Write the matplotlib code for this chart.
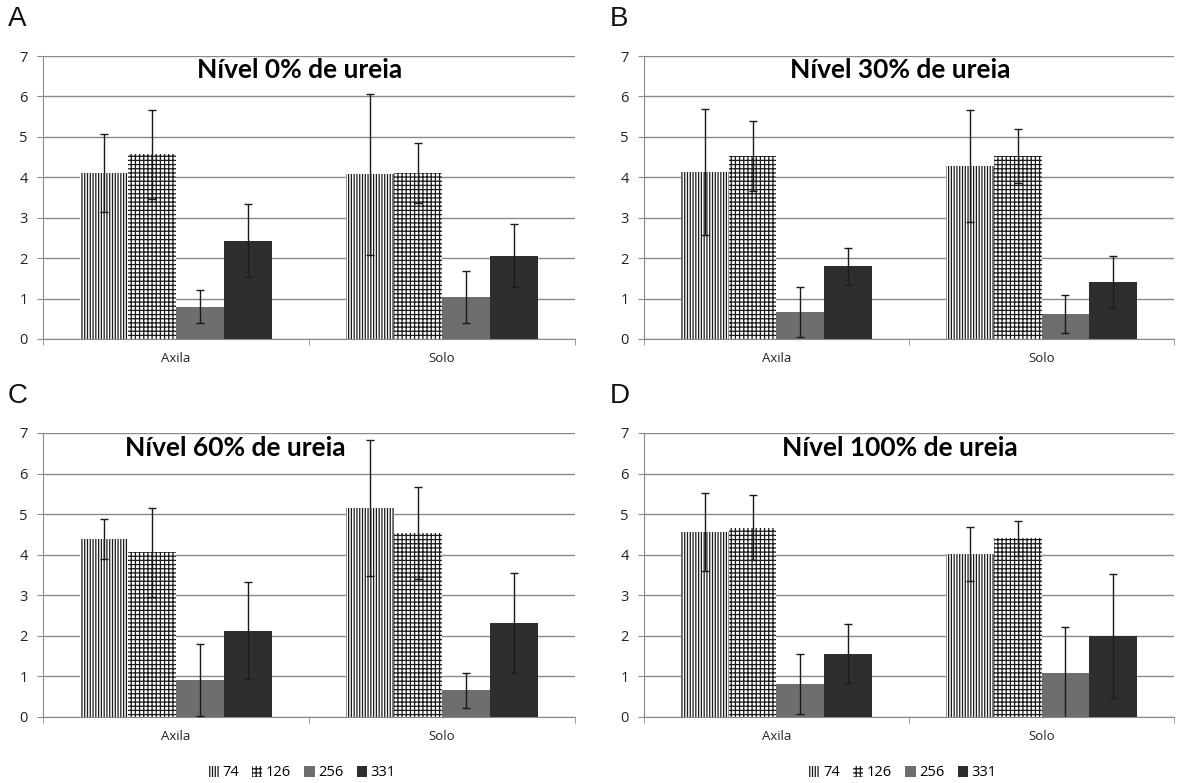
import matplotlib
matplotlib.use("Agg")
import matplotlib.pyplot as plt
from matplotlib.patches import Patch
import numpy as np

categories = ["Axila", "Solo"]
series = ["74", "126", "256", "331"]
panel_letters = ["A", "B", "C", "D"]
titles = ["Nível 0% de ureia", "Nível 30% de ureia", "Nível 60% de ureia", "Nível 100% de ureia"]

# means per panel: rows = series (74,126,256,331), cols = categories (Axila, Solo)
means_A = [[4.11, 4.08], [4.57, 4.11], [0.80, 1.04], [2.43, 2.06]]
errs_A = [[0.97, 1.99], [1.10, 0.75], [0.40, 0.65], [0.90, 0.78]]
means_B = [[4.14, 4.28], [4.52, 4.52], [0.67, 0.63], [1.80, 1.41]]
errs_B = [[1.56, 1.38], [0.86, 0.67], [0.61, 0.47], [0.46, 0.65]]
means_C = [[4.39, 5.15], [4.06, 4.54], [0.91, 0.66], [2.13, 2.31]]
errs_C = [[0.50, 1.68], [1.09, 1.13], [0.89, 0.43], [1.20, 1.23]]
means_D = [[4.57, 4.02], [4.66, 4.40], [0.82, 1.08], [1.56, 2.00]]
errs_D = [[0.96, 0.66], [0.80, 0.43], [0.74, 1.13], [0.72, 1.52]]

all_means = [means_A, means_B, means_C, means_D]
all_errs = [errs_A, errs_B, errs_C, errs_D]

W, H = 1180, 783
plt.rcParams['hatch.linewidth'] = 0.9
fig = plt.figure(figsize=(W / 100, H / 100), dpi=100)

# axes boxes in pixels: left, right, top, bottom
boxes = [(43, 575, 56, 339), (644, 1174, 56, 339),
         (43, 575, 433, 717), (644, 1174, 433, 717)]
title_pos = [(300, 70), (900, 70), (235, 448), (900, 448)]
letter_pos = [(8, 19), (610, 19), (8, 396), (610, 396)]

face = ["white", "white", "#6e6e6e", "#2e2e2e"]
hatches = ["||||||", "++++", None, None]
edges = ["#1a1a1a", "#1a1a1a", "#6e6e6e", "#2e2e2e"]
bw = 0.18
offsets = [-0.27, -0.09, 0.09, 0.27]
grid_c = "#8a8a8a"

for i in range(4):
    l, r, t, b = boxes[i]
    ax = fig.add_axes([l / W, 1 - b / H, (r - l) / W, (b - t) / H])
    x = np.arange(len(categories))
    for s in range(4):
        ax.bar(x + offsets[s], all_means[i][s], width=bw, color=face[s],
               edgecolor=edges[s], hatch=hatches[s], linewidth=0, zorder=2)
        ax.errorbar(x + offsets[s], all_means[i][s], yerr=all_errs[i][s], fmt='none',
                    ecolor="#1a1a1a", elinewidth=1.0, capsize=3, capthick=1.0, zorder=3)
    ax.set_xlim(-0.5, 1.5)
    ax.set_ylim(0, 7)
    ax.set_yticks(range(8))
    ax.yaxis.grid(True, color=grid_c, linewidth=1.0, zorder=0)
    ax.set_axisbelow(True)
    for sp in ["top", "right"]:
        ax.spines[sp].set_visible(False)
    ax.spines["left"].set_color(grid_c)
    ax.spines["bottom"].set_color(grid_c)
    ax.set_xticks(x)
    ax.set_xticklabels(categories, fontsize=9.5, color="#222222", family="Open Sans")
    ax.set_xticks([-0.5, 0.5, 1.5], minor=True)
    ax.tick_params(axis="x", which="major", length=0, pad=9)
    ax.tick_params(axis="x", which="minor", length=4, color=grid_c, direction="out")
    ax.tick_params(axis="y", length=4, color=grid_c, direction="out", labelsize=10.5,
                   labelcolor="#222222", pad=7)
    for lab in ax.get_yticklabels():
        lab.set_family("Open Sans")
    tx, ty = title_pos[i]
    fig.text(tx / W, 1 - ty / H, titles[i], ha="center", va="center",
             fontsize=19, fontweight="bold", family="Lato", color="black")
    lx, ly = letter_pos[i]
    fig.text(lx / W, 1 - ly / H, panel_letters[i], ha="left", va="center",
             fontsize=20, family="Liberation Sans", color="#111111")

leg_handles = [Patch(facecolor=face[s], edgecolor=edges[s], hatch=hatches[s], linewidth=0)
               for s in range(4)]
for cx in (302, 903):
    fig.legend(leg_handles, series, loc="center", bbox_to_anchor=(cx / W, 1 - 773 / H),
               ncol=4, frameon=False, handlelength=0.7, handleheight=0.7,
               handletextpad=0.25, columnspacing=0.9,
               prop={"family": "Open Sans", "size": 10.5})

fig.savefig("out.png", dpi=100)
